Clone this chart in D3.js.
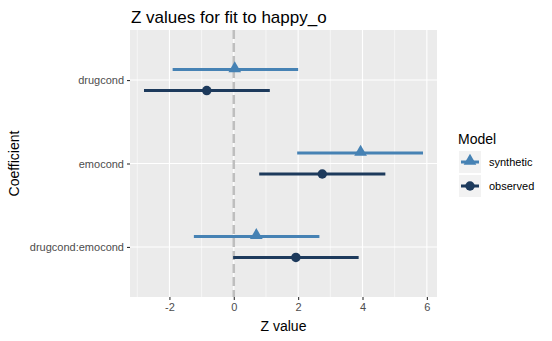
<!DOCTYPE html>
<html><head><meta charset="utf-8">
<script src="https://cdn.jsdelivr.net/npm/d3@7"></script>
<style>body{margin:0;background:#fff;font-family:"Liberation Sans",Arial,sans-serif}</style>
</head><body><svg id="c" width="552" height="341"></svg>
<script>
const coefficients = ["drugcond", "emocond", "drugcond:emocond"];
const models = ["synthetic", "observed"];
const synthEst = [0.03, 3.94, 0.70];
const synthLo  = [-1.90, 1.97, -1.24];
const synthHi  = [2.00, 5.88, 2.66];
const obsEst = [-0.84, 2.75, 1.93];
const obsLo  = [-2.79, 0.79, -0.02];
const obsHi  = [1.12, 4.71, 3.88];
const xTicks = [-2, 0, 2, 4, 6];
const xMinor = [-3, -1, 1, 3, 5];
const colors = {synthetic: "#4682B4", observed: "#1D3A5C"};

const svg = d3.select("#c");
const L = 130, R = 437, T = 30, B = 297;
const x = d3.scaleLinear().domain([-3.225, 6.315]).range([L, R]);
const yIdx = d3.scaleLinear().domain([0.4, 3.6]).range([T, B]);
const y = c => yIdx(coefficients.indexOf(c) + 1);
const dodge = {synthetic: -10.5, observed: 10.5};

svg.append("rect").attr("x", L).attr("y", T).attr("width", R - L).attr("height", B - T).attr("fill", "#EBEBEB");
svg.selectAll(".minor").data(xMinor).join("line").attr("x1", d => x(d)).attr("x2", d => x(d))
  .attr("y1", T).attr("y2", B).attr("stroke", "#fff").attr("stroke-width", 0.55);
svg.selectAll(".major").data(xTicks).join("line").attr("x1", d => x(d)).attr("x2", d => x(d))
  .attr("y1", T).attr("y2", B).attr("stroke", "#fff").attr("stroke-width", 1.1);
svg.selectAll(".hmaj").data(coefficients).join("line").attr("x1", L).attr("x2", R)
  .attr("y1", d => y(d)).attr("y2", d => y(d)).attr("stroke", "#fff").attr("stroke-width", 1.1);

// zero line
svg.append("line").attr("x1", x(0)).attr("x2", x(0)).attr("y1", T).attr("y2", B)
  .attr("stroke", "#BEBEBE").attr("stroke-width", 2.5).attr("stroke-dasharray", "9,4");

const rows = [];
coefficients.forEach((c, i) => {
  rows.push({c, m: "synthetic", est: synthEst[i], lo: synthLo[i], hi: synthHi[i]});
  rows.push({c, m: "observed", est: obsEst[i], lo: obsLo[i], hi: obsHi[i]});
});
const g = svg.append("g");
g.selectAll(".eb").data(rows).join("line")
  .attr("x1", d => x(d.lo)).attr("x2", d => x(d.hi))
  .attr("y1", d => y(d.c) + dodge[d.m]).attr("y2", d => y(d.c) + dodge[d.m])
  .attr("stroke", d => colors[d.m]).attr("stroke-width", 3);
const tri = d3.symbol().type(d3.symbolTriangle).size(70);
const cir = d3.symbol().type(d3.symbolCircle).size(70);
g.selectAll(".pt").data(rows).join("path")
  .attr("d", d => d.m === "synthetic" ? tri() : cir())
  .attr("transform", d => `translate(${x(d.est)},${y(d.c) + dodge[d.m] + (d.m === "synthetic" ? -1 : 0)})`)
  .attr("fill", d => colors[d.m]);

// axes
const xa = svg.append("g").attr("transform", `translate(0,${B})`)
  .call(d3.axisBottom(x).tickValues(xTicks).tickSize(3).tickPadding(3).tickFormat(d => d < 0 ? "-" + Math.abs(d) : d));
xa.select(".domain").remove();
xa.selectAll("line").attr("stroke", "#333").attr("stroke-width", 1.1);
xa.selectAll("text").attr("fill", "#4D4D4D").style("font-size", "11px").style("font-family", "Liberation Sans, Arial, sans-serif");

const ya = svg.append("g").attr("transform", `translate(${L},0)`)
  .call(d3.axisLeft(yIdx).tickValues([1, 2, 3]).tickSize(3).tickPadding(3).tickFormat(d => coefficients[d - 1]));
ya.select(".domain").remove();
ya.selectAll("line").attr("stroke", "#333").attr("stroke-width", 1.1);
ya.selectAll("text").attr("fill", "#4D4D4D").style("font-size", "11px").style("font-family", "Liberation Sans, Arial, sans-serif");

svg.append("text").attr("x", L + 1).attr("y", 23).text("Z values for fit to happy_o")
  .style("font-size", "17px").attr("fill", "#000");
svg.append("text").attr("x", (L + R) / 2).attr("y", 331).attr("text-anchor", "middle").text("Z value")
  .style("font-size", "14px").attr("fill", "#000");
svg.append("text").attr("transform", `translate(19,${(T + B) / 2}) rotate(-90)`).attr("text-anchor", "middle")
  .text("Coefficient").style("font-size", "14px").attr("fill", "#000");

// legend
const lg = svg.append("g").attr("transform", "translate(458,0)");
lg.append("text").attr("x", 0).attr("y", 144).text("Model").style("font-size", "14px").attr("fill", "#000");
models.forEach((m, i) => {
  const cy = 162 + i * 24;
  lg.append("rect").attr("x", 1).attr("y", cy - 11).attr("width", 22).attr("height", 22).attr("fill", "#F2F2F2");
  lg.append("line").attr("x1", 3).attr("x2", 21).attr("y1", cy).attr("y2", cy).attr("stroke", colors[m]).attr("stroke-width", 3);
  lg.append("path").attr("d", m === "synthetic" ? tri() : cir())
    .attr("transform", `translate(12,${cy + (m === "synthetic" ? -1 : 0)})`).attr("fill", colors[m]);
  lg.append("text").attr("x", 31).attr("y", cy + 4).text(m).style("font-size", "11px").attr("fill", "#000");
});
</script></body></html>
